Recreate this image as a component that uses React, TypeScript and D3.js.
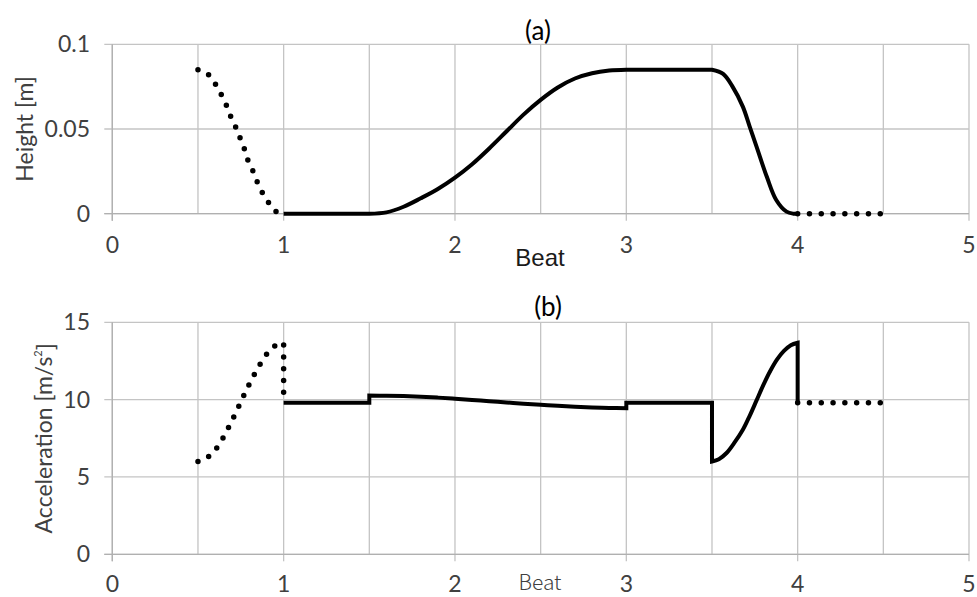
import React from "react";
import * as d3 from "d3";

// ---- data ----
const xTicks = [0, 1, 2, 3, 4, 5];
const xGrid = [0, 0.5, 1, 1.5, 2, 2.5, 3, 3.5, 4, 4.5, 5];
const heightTicks = [0, 0.05, 0.1];
const heightTickLabels = ["0", "0.05", "0.1"];
const accelTicks = [0, 5, 10, 15];
const accelTickLabels = ["0", "5", "10", "15"];

// (a) Height: previous beat (dotted)
const heightPrevX = [0.5, 0.56, 0.6, 0.635, 0.665, 0.69, 0.72, 0.745, 0.77, 0.79, 0.82, 0.845, 0.875, 0.91, 0.95, 0.975];
const heightPrevY = [0.085, 0.0822, 0.0768, 0.0705, 0.0642, 0.0577, 0.0512, 0.0449, 0.0384, 0.0319, 0.0254, 0.0189, 0.0126, 0.0069, 0.0018, 0];
// (a) Height: main beat (solid), pieces
const heightFlat1X = [1, 1.5];
const heightFlat1Y = [0, 0];
const heightRiseX = [1.5, 1.6, 1.7, 1.8, 1.9, 2.0, 2.1, 2.2, 2.3, 2.4, 2.5, 2.6, 2.7, 2.8, 2.9, 3.0];
const heightRiseY = [0, 0.0008, 0.0041, 0.0091, 0.0146, 0.0213, 0.0292, 0.0385, 0.0485, 0.0585, 0.0672, 0.0745, 0.0798, 0.0829, 0.0845, 0.085];
const heightFlat2X = [3.0, 3.5];
const heightFlat2Y = [0.085, 0.085];
const heightFallX = [3.5, 3.565, 3.62, 3.68, 3.72, 3.76, 3.82, 3.875, 3.935, 3.975, 4.0];
const heightFallY = [0.085, 0.0825, 0.075, 0.0632, 0.0514, 0.0396, 0.0218, 0.0081, 0.0012, 0, 0];
// (a) Height: next beat (dotted)
const heightNextX = [4.0, 4.5];
const heightNextY = [0, 0];

// (b) Acceleration: previous beat (dotted)
const accelPrevX = [0.5, 0.561, 0.608, 0.645, 0.678, 0.708, 0.737, 0.766, 0.795, 0.827, 0.86, 0.897, 0.942, 1.0];
const accelPrevY = [6.0, 6.31, 6.85, 7.5, 8.19, 8.86, 9.54, 10.23, 10.9, 11.59, 12.24, 12.88, 13.42, 13.68];
const accelPrevDropX = [1.0, 1.0];
const accelPrevDropY = [13.68, 9.8];
// (b) Acceleration: main beat (solid), pieces
const accelFlat1X = [1, 1.5, 1.5];
const accelFlat1Y = [9.8, 9.8, 10.27];
const accelMidX = [1.5, 1.6, 1.7, 1.8, 1.9, 2.0, 2.1, 2.2, 2.3, 2.4, 2.5, 2.6, 2.7, 2.8, 2.9, 3.0];
const accelMidY = [10.27, 10.25, 10.23, 10.19, 10.13, 10.06, 9.98, 9.9, 9.82, 9.74, 9.67, 9.6, 9.54, 9.49, 9.46, 9.44];
const accelFlat2X = [3.0, 3.0, 3.5, 3.5];
const accelFlat2Y = [9.44, 9.8, 9.8, 6.0];
const accelRiseX = [3.5, 3.54, 3.585, 3.63, 3.68, 3.72, 3.76, 3.8, 3.84, 3.88, 3.92, 3.96, 4.0];
const accelRiseY = [6.0, 6.15, 6.55, 7.2, 8.05, 8.95, 9.95, 10.95, 11.85, 12.6, 13.15, 13.52, 13.68];
const accelDropX = [4.0, 4.0];
const accelDropY = [13.68, 9.8];
// (b) Acceleration: next beat (dotted)
const accelNextX = [4.0, 4.5];
const accelNextY = [9.8, 9.8];

// ---- layout ----
const W = 977;
const H = 597;
const FONT = "Lato, 'Open Sans', sans-serif";
const GRID = "#c4c4c4";
const TEXT = "#404040";

const x = d3.scaleLinear().domain([0, 5]).range([112.3, 969]);
const yTop = d3.scaleLinear().domain([0, 0.1]).range([213.7, 44.3]);
const yBot = d3.scaleLinear().domain([0, 15]).range([554.3, 322.3]);

type Piece = { xs: number[]; ys: number[]; smooth: boolean };

function buildPath(pieces: Piece[], ys: d3.ScaleLinear<number, number>): string {
  return pieces
    .map((p, i) => {
      const pts: [number, number][] = p.xs.map((v, k) => [v, p.ys[k]]);
      const gen = d3
        .line<[number, number]>()
        .x((d) => x(d[0]))
        .y((d) => ys(d[1]))
        .curve(p.smooth ? d3.curveCatmullRom.alpha(0.5) : d3.curveLinear);
      const d = gen(pts) || "";
      return i === 0 ? d : d.replace(/^M/, "L");
    })
    .join("");
}

function Panel({
  ys,
  ticks,
  labels,
  ylabel,
  ylabelX,
  xLabelY,
}: {
  ys: d3.ScaleLinear<number, number>;
  ticks: number[];
  labels: string[];
  ylabel: React.ReactNode;
  ylabelX: number;
  xLabelY: number;
}) {
  const [y0, y1] = ys.range();
  const yMin = Math.min(y0, y1);
  const yMax = Math.max(y0, y1);
  return (
    <g>
      {xGrid.map((v) => (
        <line key={"vx" + v} x1={x(v)} x2={x(v)} y1={yMin} y2={Number.isInteger(v) ? yMax + 7 : yMax} stroke={GRID} strokeWidth={1.3} />
      ))}
      {ticks.map((t) => (
        <line key={"hy" + t} x1={x(0) - 8} x2={x(5)} y1={ys(t)} y2={ys(t)} stroke={GRID} strokeWidth={1.3} />
      ))}
      <line x1={x(0)} x2={x(0)} y1={yMin} y2={yMax + 7} stroke="#b0b0b0" strokeWidth={1.3} />
      <line x1={x(0) - 8} x2={x(5)} y1={ys(0)} y2={ys(0)} stroke="#b0b0b0" strokeWidth={1.3} />
      {ticks.map((t, i) => (
        <text key={"ty" + t} x={90} y={ys(t)} dy="0.35em" textAnchor="end" fontFamily={FONT} fontSize={23} fill={TEXT}>
          {labels[i]}
        </text>
      ))}
      {xTicks.map((t) => (
        <text key={"tx" + t} x={x(t)} y={xLabelY} dy="0.35em" textAnchor="middle" fontFamily={FONT} fontSize={23} fill={TEXT}>
          {t}
        </text>
      ))}
      <text
        transform={`translate(${ylabelX},${(yMin + yMax) / 2}) rotate(-90)`}
        textAnchor="middle"
        dy="0.35em"
        fontFamily={FONT}
        fontSize={23}
        fill={TEXT}
      >
        {ylabel}
      </text>
    </g>
  );
}

export default function App() {
  const dotted = { fill: "none", stroke: "#000", strokeWidth: 5.5, strokeDasharray: "0 11.8", strokeLinecap: "round" as const };
  const solid = { fill: "none", stroke: "#000", strokeWidth: 4, strokeLinejoin: "miter" as const };

  const hPrev = buildPath([{ xs: heightPrevX, ys: heightPrevY, smooth: true }], yTop);
  const hMain = buildPath(
    [
      { xs: heightFlat1X, ys: heightFlat1Y, smooth: false },
      { xs: heightRiseX, ys: heightRiseY, smooth: true },
      { xs: heightFlat2X, ys: heightFlat2Y, smooth: false },
      { xs: heightFallX, ys: heightFallY, smooth: true },
    ],
    yTop
  );
  const hNext = buildPath([{ xs: heightNextX, ys: heightNextY, smooth: false }], yTop);

  const aPrev = buildPath(
    [
      { xs: accelPrevX, ys: accelPrevY, smooth: true },
      { xs: accelPrevDropX, ys: accelPrevDropY, smooth: false },
    ],
    yBot
  );
  const aMain = buildPath(
    [
      { xs: accelFlat1X, ys: accelFlat1Y, smooth: false },
      { xs: accelMidX, ys: accelMidY, smooth: true },
      { xs: accelFlat2X, ys: accelFlat2Y, smooth: false },
      { xs: accelRiseX, ys: accelRiseY, smooth: true },
      { xs: accelDropX, ys: accelDropY, smooth: false },
    ],
    yBot
  );
  const aNext = buildPath([{ xs: accelNextX, ys: accelNextY, smooth: false }], yBot);

  return (
    <svg width={W} height={H} style={{ position: "absolute", left: 0, top: 0, background: "#fff" }}>
      <rect width={W} height={H} fill="#fff" />
      <Panel ys={yTop} ticks={heightTicks} labels={heightTickLabels} ylabel="Height [m]" ylabelX={25} xLabelY={245} />
      <Panel
        ys={yBot}
        ticks={accelTicks}
        labels={accelTickLabels}
        ylabel={
          <>
            Acceleration [m/s<tspan fontSize={11} dy="-0.9em">2</tspan>
            <tspan dy="0.5em">]</tspan>
          </>
        }
        ylabelX={44}
        xLabelY={584}
      />
      <text x={538} y={31} dy="0.35em" textAnchor="middle" fontFamily={FONT} fontSize={26} fill="#000">
        (a)
      </text>
      <text x={548} y={307} dy="0.35em" textAnchor="middle" fontFamily={FONT} fontSize={26} fill="#000">
        (b)
      </text>
      <text x={540} y={266} textAnchor="middle" fontFamily="'Liberation Sans', Arial, sans-serif" fontSize={24} fill="#1a1a1a">
        Beat
      </text>
      <text x={540} y={590} textAnchor="middle" fontFamily="'Noto Sans CJK JP', sans-serif" fontWeight={300} fontSize={21} fill="#404040">
        Beat
      </text>

      <path d={hPrev} {...dotted} />
      <path d={hNext} {...dotted} />
      <path d={hMain} {...solid} />
      <path d={aPrev} {...dotted} />
      <path d={aNext} {...dotted} />
      <path d={aMain} {...solid} />
    </svg>
  );
}
